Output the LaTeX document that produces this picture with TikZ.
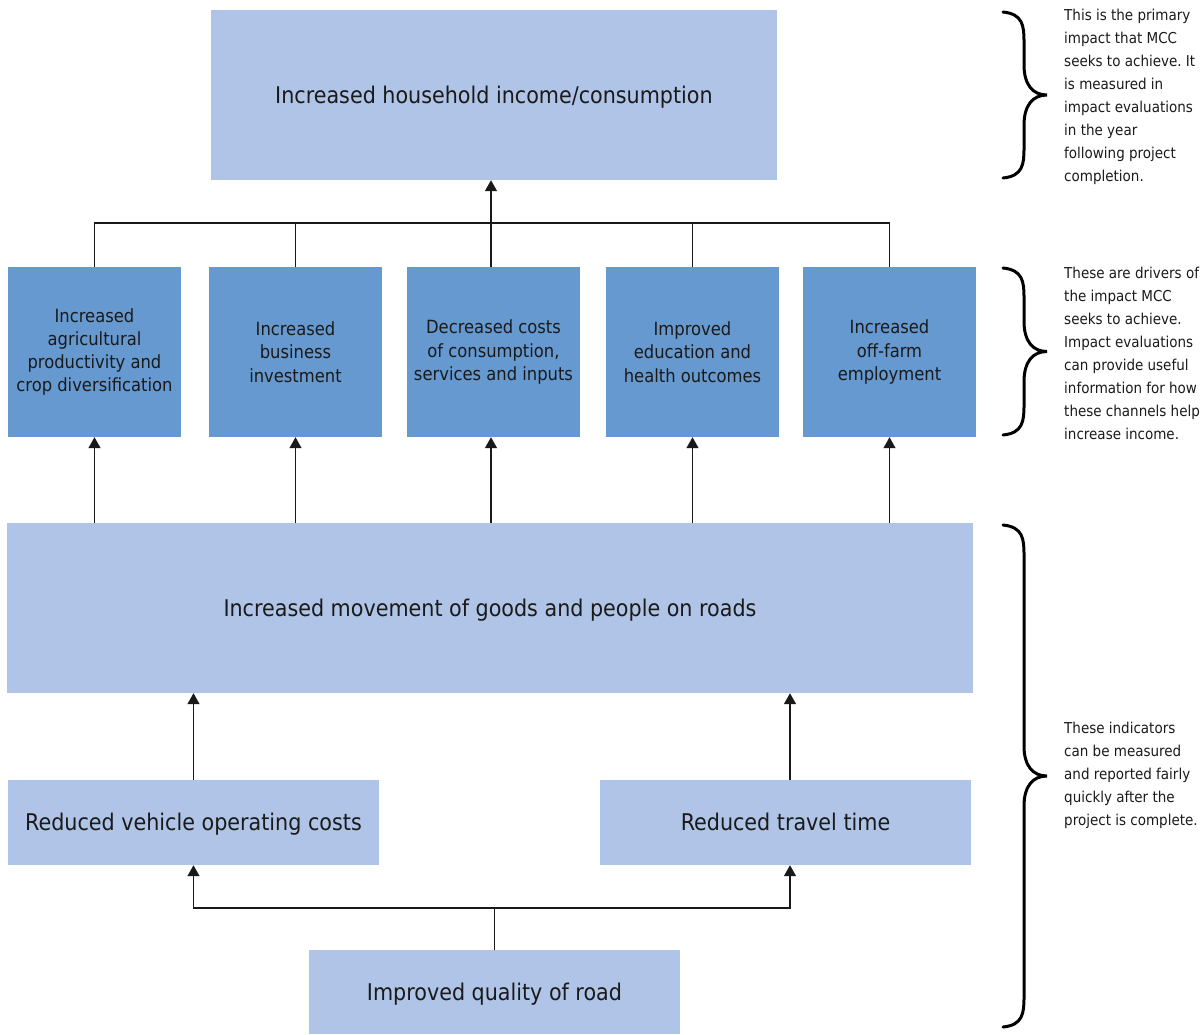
\documentclass[tikz,border=0pt]{standalone}
\usepackage{fontspec}
\setmainfont{DejaVu Sans Condensed}
\newfontfamily\sidefont{DejaVu Sans Condensed}
\usetikzlibrary{arrows.meta}
\frenchspacing
\definecolor{lightbox}{HTML}{AFC4E6}
\definecolor{darkbox}{HTML}{6699CF}
\definecolor{txt}{HTML}{1A1A1A}
\tikzset{
  lbox/.style={rectangle, fill=lightbox, inner sep=0pt, text=txt, align=center},
  dbox/.style={rectangle, fill=darkbox, inner sep=0pt, text=txt, align=center,
    minimum width=173pt, minimum height=170pt, font=\fontsize{18.2}{23.3}\selectfont},
  bigtxt/.style={font=\fontsize{23}{28}\selectfont, text height=21pt, text depth=5pt},
  midtxt/.style={font=\fontsize{23}{28}\selectfont, text height=21pt, text depth=5pt},
  conn/.style={line width=1.4pt, draw=black!90},
  arr/.style={conn, -{Triangle[width=12pt,length=11pt]}},
  bracepath/.style={line width=3pt, line cap=round},
  sidetxt/.style={anchor=north west, inner sep=0pt, align=left, text=txt,
    font=\sidefont\fontsize{15}{23}\selectfont}
}
\newcommand\mybrace[3]{% x0, ytop, ybottom
  \pgfmathsetmacro\ym{(#2+#3)/2}
  \draw[bracepath] (#1,#2) .. controls (#1+20,#2+2) and (#1+21,#2+14) .. (#1+21,#2+30)
    -- (#1+21,\ym-30) .. controls (#1+21,\ym-10) and (#1+30,\ym) .. (#1+44,\ym)
    .. controls (#1+30,\ym) and (#1+21,\ym+10) .. (#1+21,\ym+30)
    -- (#1+21,#3-30) .. controls (#1+21,#3-14) and (#1+20,#3-2) .. (#1,#3);
}
\begin{document}
\begin{tikzpicture}[x=1pt,y=-1pt]
\useasboundingbox (0,0) rectangle (1204,1034);
% top
\node[lbox, bigtxt, minimum width=566pt, minimum height=170pt] (top) at (494,95)
  {Increased household income/consumption};
% drivers
\node[dbox] (d1) at (94.5,352) {Increased\\agricultural\\productivity and\\crop diversification};
\node[dbox] (d2) at (295.5,352) {Increased\\business\\investment};
\node[dbox] (d3) at (493.5,352) {Decreased costs\\of consumption,\\services and inputs};
\node[dbox] (d4) at (692.5,352) {Improved\\education and\\health outcomes};
\node[dbox] (d5) at (889.5,352) {Increased\\off-farm\\employment};
% middle
\node[lbox, bigtxt, minimum width=966pt, minimum height=170pt] (mid) at (490,608)
  {Increased movement of goods and people on roads};
% lower
\node[lbox, midtxt, minimum width=371pt, minimum height=85pt] (lowL) at (193.5,822.5)
  {Reduced vehicle operating costs};
\node[lbox, midtxt, minimum width=371pt, minimum height=85pt] (lowR) at (785.5,822.5)
  {Reduced travel time};
\node[lbox, midtxt, minimum width=371pt, minimum height=84pt] (bot) at (494.5,992)
  {Improved quality of road};
% helper coordinates
\coordinate (d3n) at ([xshift=-2.5pt]d3.north);
\coordinate (d3s) at ([xshift=-2.5pt]d3.south);
\coordinate (lrn) at ([xshift=4.5pt]lowR.north);
\coordinate (lrs) at ([xshift=4.5pt]lowR.south);
% connectors top
\coordinate (bus) at (0,223);
\draw[conn] (d1.north) -- (d1.north |- bus) -- (d5.north |- bus) -- (d5.north);
\draw[conn] (d2.north) -- (d2.north |- bus);
\draw[conn] (d4.north) -- (d4.north |- bus);
\draw[arr] (d3n) -- (d3n |- top.south);
% middle to drivers
\foreach \d in {d1,d2,d4,d5}{
  \draw[arr] (mid.north -| \d.south) -- (\d.south);
}
\draw[arr] (mid.north -| d3s) -- (d3s);
% lower to middle
\draw[arr] (lowL.north) -- (lowL.north |- mid.south);
\draw[arr] (lrn) -- (lrn |- mid.south);
% bottom
\coordinate (junc) at (0,908);
\draw[conn] (bot.north) -- (bot.north |- junc);
\draw[arr] (bot.north |- junc) -| (lowL.south);
\draw[arr] (bot.north |- junc) -| (lrs);
% braces
\mybrace{1003}{12}{178}
\mybrace{1003}{268}{435}
\mybrace{1003}{525}{1027}
% side text
\node[sidetxt] (s1) at (1064,9) {This is the primary\\impact that MCC\\seeks to achieve. It\\is measured in\\impact evaluations\\in the year\\following project\\completion.};
\node[sidetxt] (s2) at (1064,267) {These are drivers of\\the impact MCC\\seeks to achieve.\\Impact evaluations\\can provide useful\\information for how\\these channels help\\increase income.};
\node[sidetxt] (s3) at (1064,722) {These indicators\\can be measured\\and reported fairly\\quickly after the\\project is complete.};
\end{tikzpicture}
\end{document}
